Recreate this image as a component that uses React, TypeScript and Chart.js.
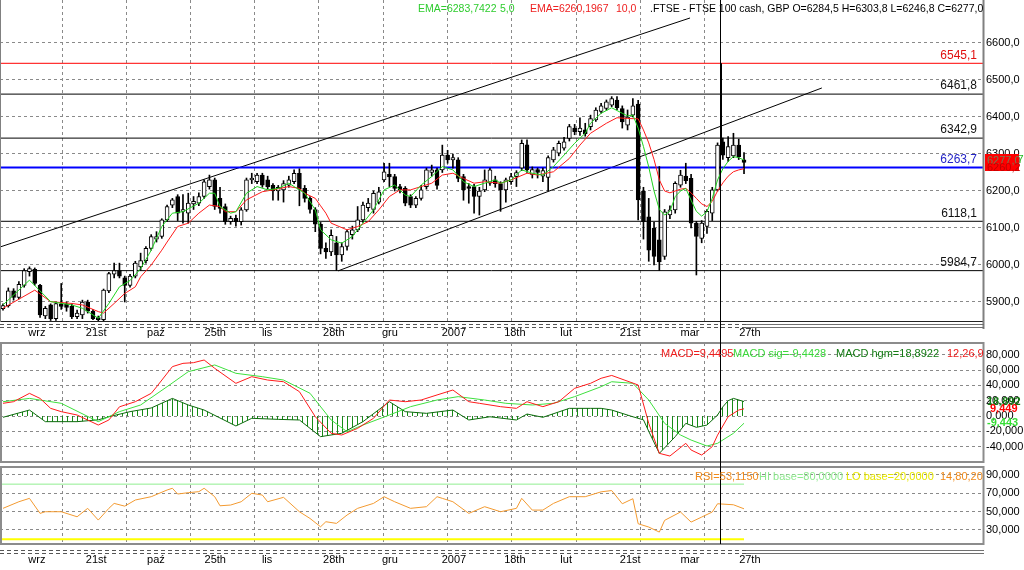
import React, { useEffect, useRef } from "react";
import { Chart, registerables } from "chart.js";

Chart.register(...registerables);

const FONT = "'Liberation Sans', Arial, sans-serif";
const GRID = "#8a8a8a";

// x geometry (candle index space)
const X_MIN = -0.567;
const X_MAX = 185.15;
const CURSOR_X = 135.37;
const LAST_X = 140;

// ---- OHLC (FTSE 100 cash, daily) ----
const openPrices = [
  5882, 5890, 5930, 5912, 5945, 5982, 5988, 5945, 5862, 5892,
  5855, 5895, 5895, 5888, 5860, 5865, 5900, 5875, 5858, 5852,
  5930, 5975, 5985, 5965, 5945, 5970, 5995, 6012, 6045, 6070,
  6077, 6122, 6162, 6185, 6145, 6140, 6165, 6167, 6185, 6212,
  6230, 6180, 6158, 6117, 6126, 6117, 6149, 6230, 6225, 6243,
  6230, 6215, 6200, 6203, 6216, 6225, 6248, 6207, 6180, 6150,
  6110, 6045, 6035, 6060, 6027, 6050, 6082, 6095, 6122, 6155,
  6150, 6170, 6230, 6245, 6239, 6212, 6207, 6185, 6162, 6180,
  6212, 6250, 6257, 6257, 6297, 6284, 6284, 6239, 6212, 6212,
  6185, 6203, 6221, 6230, 6220, 6203, 6225, 6239, 6262, 6325,
  6245, 6258, 6240, 6237, 6284, 6302, 6316, 6342, 6370, 6360,
  6365, 6374, 6392, 6415, 6423, 6432, 6446, 6423, 6378, 6405,
  6435, 6200, 6130, 6100, 6068, 6023, 6135, 6149, 6216, 6240,
  6234, 6113, 6072, 6104, 6140, 6203, 6333, 6290, 6295, 6324,
  6284.5,
];
const highPrices = [
  5895, 5938, 5936, 5955, 5990, 5995, 5992, 5948, 5888, 5895,
  5900, 5950, 5900, 5895, 5878, 5905, 5905, 5880, 5862, 5935,
  5980, 6005, 6005, 5970, 5975, 6010, 6032, 6050, 6082, 6090,
  6125, 6162, 6180, 6190, 6190, 6194, 6185, 6195, 6230, 6243,
  6235, 6210, 6165, 6132, 6135, 6155, 6235, 6248, 6248, 6248,
  6240, 6220, 6215, 6228, 6240, 6257, 6260, 6215, 6185, 6155,
  6115, 6060, 6095, 6077, 6060, 6095, 6105, 6158, 6170, 6180,
  6200, 6210, 6275, 6275, 6245, 6218, 6212, 6190, 6185, 6215,
  6262, 6270, 6262, 6324, 6310, 6300, 6290, 6245, 6220, 6218,
  6210, 6257, 6262, 6240, 6225, 6235, 6248, 6255, 6338, 6338,
  6265, 6262, 6262, 6295, 6318, 6335, 6345, 6380, 6380, 6398,
  6383, 6405, 6425, 6437, 6446, 6455, 6455, 6430, 6419, 6450,
  6445, 6210, 6180, 6115, 6266, 6150, 6160, 6225, 6256, 6275,
  6245, 6118, 6120, 6150, 6210, 6330, 6343, 6347, 6356, 6340,
  6303.8,
];
const lowPrices = [
  5878, 5886, 5905, 5908, 5940, 5970, 5945, 5858, 5855, 5850,
  5850, 5880, 5875, 5855, 5855, 5855, 5870, 5852, 5846, 5848,
  5925, 5965, 5965, 5900, 5940, 5965, 5985, 6005, 6040, 6062,
  6072, 6118, 6155, 6120, 6113, 6113, 6150, 6160, 6180, 6205,
  6150, 6140, 6110, 6110, 6105, 6108, 6145, 6220, 6220, 6210,
  6205, 6175, 6175, 6170, 6210, 6220, 6160, 6170, 6140, 6090,
  6030, 6018, 6025, 5985, 6010, 6040, 6070, 6090, 6115, 6145,
  6140, 6165, 6225, 6212, 6200, 6195, 6160, 6155, 6155, 6175,
  6205, 6240, 6205, 6250, 6275, 6262, 6225, 6175, 6167, 6140,
  6135, 6198, 6215, 6210, 6145, 6170, 6218, 6212, 6255, 6250,
  6235, 6235, 6225, 6200, 6278, 6295, 6310, 6335, 6352, 6350,
  6348, 6365, 6388, 6410, 6418, 6428, 6420, 6370, 6365, 6400,
  6122, 6070, 6010, 6000, 5985, 6015, 6125, 6140, 6210, 6220,
  6100, 5973, 6060, 6085, 6120, 6200, 6285, 6280, 6290, 6285,
  6246.8,
];
const closePrices = [
  5890, 5930, 5912, 5948, 5985, 5990, 5950, 5865, 5883, 5855,
  5896, 5888, 5885, 5860, 5870, 5900, 5875, 5855, 5852, 5932,
  5977, 5985, 5970, 5945, 5970, 6005, 6012, 6045, 6077, 6077,
  6122, 6158, 6176, 6140, 6150, 6167, 6172, 6185, 6225, 6230,
  6158, 6153, 6117, 6126, 6117, 6149, 6230, 6235, 6243, 6216,
  6212, 6200, 6210, 6220, 6230, 6248, 6205, 6180, 6150, 6110,
  6045, 6035, 6080, 6027, 6050, 6090, 6095, 6122, 6162, 6167,
  6194, 6198, 6252, 6238, 6207, 6203, 6167, 6162, 6180, 6203,
  6257, 6257, 6215, 6297, 6284, 6290, 6234, 6203, 6207, 6185,
  6200, 6230, 6257, 6220, 6203, 6230, 6239, 6250, 6329, 6257,
  6258, 6250, 6255, 6290, 6311, 6329, 6333, 6374, 6360, 6370,
  6355, 6396, 6419, 6430, 6441, 6450, 6425, 6387, 6400, 6430,
  6176, 6117, 6040, 6023, 6008, 6144, 6149, 6221, 6243, 6228,
  6113, 6077, 6113, 6145, 6203, 6324, 6297, 6320, 6324, 6293,
  6277.0,
];

// ---- EMA lines ----
const ema5Idx = [0, 5, 9, 13, 15, 18, 20, 22, 24, 26, 28, 30, 32, 34, 37, 39, 40, 41, 43, 44, 46, 48, 50, 52, 54, 55, 57, 59, 60, 62, 64, 66, 68, 70, 72, 74, 76, 77, 79, 81, 83, 85, 87, 89, 91, 93, 94, 96, 98, 100, 102, 104, 106, 108, 110, 111, 113, 115, 117, 118, 119, 120, 121, 122, 123, 124, 125, 126, 127, 128, 129, 130, 131, 132, 133, 134, 135, 136, 137, 138, 139, 140];
const ema5Vals = [5892, 5959, 5901, 5892, 5883, 5856, 5896, 5941, 5958, 5990, 6040, 6104, 6140, 6144, 6167, 6194, 6194, 6158, 6140, 6144, 6194, 6212, 6203, 6207, 6221, 6212, 6194, 6149, 6095, 6068, 6059, 6077, 6113, 6149, 6203, 6216, 6189, 6185, 6216, 6239, 6266, 6257, 6225, 6212, 6221, 6230, 6221, 6230, 6257, 6248, 6243, 6266, 6297, 6329, 6356, 6383, 6410, 6425, 6410, 6403, 6405, 6370, 6320, 6265, 6200, 6150, 6135, 6145, 6185, 6200, 6207, 6175, 6145, 6132, 6144, 6180, 6230, 6260, 6280, 6293, 6290, 6283.7];
const ema10Idx = [0, 6, 9, 13, 15, 18, 19, 21, 23, 25, 26, 28, 30, 31, 33, 35, 37, 39, 41, 42, 44, 46, 49, 51, 54, 56, 57, 59, 60, 61, 62, 65, 67, 69, 71, 73, 75, 77, 79, 81, 83, 85, 87, 89, 91, 94, 96, 99, 101, 104, 107, 109, 111, 114, 116, 118, 120, 121, 122, 123, 124, 125, 126, 127, 128, 129, 130, 131, 132, 133, 134, 135, 136, 137, 138, 139, 140];
const ema10Vals = [5883, 5932, 5901, 5896, 5892, 5874, 5870, 5896, 5923, 5941, 5968, 6000, 6040, 6062, 6104, 6113, 6140, 6162, 6158, 6144, 6144, 6176, 6198, 6203, 6212, 6207, 6194, 6180, 6160, 6140, 6113, 6095, 6104, 6117, 6149, 6185, 6203, 6203, 6212, 6221, 6243, 6248, 6234, 6221, 6225, 6221, 6230, 6248, 6243, 6252, 6288, 6324, 6356, 6383, 6398, 6396, 6395, 6365, 6330, 6285, 6230, 6200, 6195, 6200, 6205, 6207, 6195, 6180, 6165, 6158, 6172, 6200, 6222, 6240, 6252, 6257, 6260.2];

// ---- MACD (12,26,9) ----
const macdIdx = [0, 2, 5, 7, 9, 11, 14, 18, 20, 22, 25, 28, 29, 32, 34, 36, 38, 40, 44, 47, 50, 53, 56, 59, 62, 64, 67, 70, 73, 76, 79, 82, 85, 88, 90, 94, 97, 99, 102, 105, 108, 111, 113, 115, 120, 122, 124, 126, 129, 130, 132, 134, 135, 137, 139, 140];
const macdVals = [16.6, 18.7, 29.6, 23, 10, 5.7, 1.3, -11.8, -5.2, 12, 18.7, 29.6, 38, 64.5, 68.8, 69.7, 73.2, 62.3, 42.7, 51.4, 47, 44.8, 31.8, -0.9, -22.6, -24.8, -16.1, -3, 20.9, 18.7, 20.9, 27.5, 34, 18.7, 16.6, 12.2, 10, 18.7, 12.2, 18.7, 36.2, 42.7, 49.3, 53, 40.5, -9.6, -48.8, -52.3, -35.7, -44.4, -51, -40, -25, -0.9, 7.8, 9.45];
const sigIdx = [0, 5, 11, 18, 22, 26, 31, 35, 40, 44, 49, 53, 58, 62, 65, 68, 73, 77, 82, 86, 91, 95, 100, 104, 108, 113, 115, 119, 122, 125, 128, 130, 133, 135, 138, 140];
const sigVals = [18.7, 23, 16.6, -7.4, 5.7, 14.4, 38.3, 57.9, 66.7, 55.8, 51.4, 47, 29.7, -5.2, -20.5, -11.8, 1.3, 12.2, 20.9, 25.3, 20.9, 16.6, 14.4, 16.6, 25.3, 38.3, 44.8, 42.7, 20.9, -9.6, -24.8, -31.4, -39.2, -35.7, -22.6, -9.44];
const histIdx = [0, 5, 8, 14, 18, 20, 24, 28, 32, 35, 38, 41, 44, 47, 52, 56, 60, 64, 68, 73, 76, 80, 85, 88, 92, 97, 99, 102, 107, 111, 113, 115, 119, 121, 122, 124, 127, 129, 131, 133, 135, 136, 137, 138, 140];
const histVals = [-1.7, 7.8, -7.4, -7.4, -5, -1, 5.7, 10.5, 23, 14.4, 7.8, -2.6, -13, -3, -4.4, -5.2, -27, -22.6, -7.4, 18.7, 5.7, 3.5, 7.8, -5.2, -1, -5.2, 2.6, -1.7, 10, 10, 10, 7.8, -1, -5, -20, -48.8, -27, -9.6, -14.8, -11.8, 1.3, 12, 20, 23, 18.9];

// ---- RSI (14) ----
const rsiIdx = [0, 3, 5, 7, 8, 11, 14, 16, 18, 20, 21, 23, 25, 28, 31, 32, 33, 35, 37, 38, 40, 41, 43, 45, 47, 49, 50, 53, 56, 58, 60, 61, 63, 65, 67, 70, 72, 74, 77, 80, 82, 83, 85, 88, 91, 94, 97, 98, 100, 102, 104, 107, 110, 113, 115, 117, 119, 120, 122, 124, 125, 128, 130, 132, 134, 135, 138, 140];
const rsiVals = [53.6, 60.8, 64.5, 48.1, 49.9, 49.9, 44.4, 53.6, 40.8, 53.6, 59, 56, 62.7, 66.3, 73.6, 75.5, 69.2, 70.7, 71.8, 75.5, 66.3, 56.4, 57.2, 60.8, 70, 68.1, 60.8, 65.6, 49.9, 42.6, 33.5, 39, 37.2, 46.3, 53.6, 59, 66.3, 60.8, 53.6, 55.4, 66.3, 64.5, 60.8, 48.1, 55.4, 49.9, 53.6, 64.5, 51.7, 51.7, 59, 66.3, 66.3, 71.6, 73, 58.6, 64.1, 36.8, 33.2, 27.7, 40.5, 49.6, 38.6, 44.1, 49.6, 58.6, 57.5, 53.1];
const rsiHiBase = 80;
const rsiLoBase = 20;

// ---- levels & trend lines ----
const levelValues = [6545.1, 6461.8, 6342.9, 6263.7, 6118.1, 5984.7];
const levelColors = ["#ff0000", "#000000", "#000000", "#0000ff", "#000000", "#000000"];
const levelLabelColors = ["#e01010", "#111111", "#111111", "#2626c8", "#111111", "#111111"];
const levelWidths = [1, 1, 1, 2, 1, 1];
const upperTrendX = [-0.567, 129.8];
const upperTrendY = [6048.6, 6667.6];
const lowerTrendX = [63.3, 154.7];
const lowerTrendY = [5984.0, 6478.4];
const cursorBoldTop = 6545.1;
const cursorBoldBottom = 6320;

// ---- axes ----
const xLabelPos = [6.4, 17.6, 28.9, 40.1, 49.9, 62.5, 73.1, 85.2, 96.7, 106.4, 118.5, 129.8, 141.1];
const xLabelText = ["wrz", "21st", "paź", "25th", "lis", "28th", "gru", "2007", "18th", "lut", "21st", "mar", "27th"];
const xGridPos = [11.3, 23.4, 35.5, 47.6, 59.7, 71.8, 83.9, 96.1, 108.3, 120.5, 132.6];
const priceTicks = [5900, 6000, 6100, 6200, 6300, 6400, 6500, 6600];
const macdTicks = [-40, -20, 0, 20, 40, 60, 80];
const rsiTicks = [30, 50, 70, 90];

const fmt1 = (v: number) => v.toFixed(1).replace(".", ",");
const fmt3 = (v: number) => v.toFixed(3).replace(".", ",");
const pts = (xs: number[], ys: number[]) => xs.map((x, k) => ({ x, y: ys[k] }));

function noPad(sc: any) {
  sc.paddingTop = 0;
  sc.paddingBottom = 0;
  sc.paddingLeft = 0;
  sc.paddingRight = 0;
}

function xScales(withLabels: boolean, labelHeight: number, labelPad: number) {
  const s: any = {
    x: {
      type: "linear",
      min: X_MIN,
      max: X_MAX,
      offset: false,
      position: "top",
      afterBuildTicks: (sc: any) => {
        sc.ticks = xGridPos.map((v) => ({ value: v }));
      },
      afterFit: (sc: any) => {
        sc.height = 0;
        noPad(sc);
      },
      ticks: { display: false },
      grid: { color: GRID, lineWidth: 1, drawTicks: false, offset: false },
      border: { display: false, dash: [3, 3] },
    },
  };
  if (withLabels) {
    s.xl = {
      type: "linear",
      min: X_MIN,
      max: X_MAX,
      offset: false,
      position: "bottom",
      afterBuildTicks: (sc: any) => {
        sc.ticks = xLabelPos.map((v) => ({ value: v }));
      },
      afterFit: (sc: any) => {
        sc.height = labelHeight;
        noPad(sc);
      },
      ticks: {
        autoSkip: false,
        maxRotation: 0,
        minRotation: 0,
        padding: labelPad,
        color: "#000",
        font: { family: FONT, size: 11 },
        callback: (_v: any, i: number) => xLabelText[i],
      },
      grid: { display: false, drawTicks: false, offset: false },
      border: { display: false },
    };
  }
  return s;
}

function yScale(min: number, max: number, ticks: number[], fmt: (v: number) => string) {
  return {
    type: "linear",
    position: "right",
    min,
    max,
    beginAtZero: false,
    afterBuildTicks: (sc: any) => {
      sc.ticks = ticks.map((v) => ({ value: v }));
    },
    afterFit: (sc: any) => {
      sc.width = 41;
      noPad(sc);
    },
    ticks: {
      padding: 3,
      color: "#000",
      font: { family: FONT, size: 11 },
      callback: (v: any) => fmt(Number(v)),
    },
    grid: { color: GRID, lineWidth: 1, drawTicks: false },
    border: { display: false, dash: [3, 3] },
  };
}

function hline(ctx: CanvasRenderingContext2D, x1: number, x2: number, y: number) {
  ctx.beginPath();
  ctx.moveTo(x1, y);
  ctx.lineTo(x2, y);
  ctx.stroke();
}
function vline(ctx: CanvasRenderingContext2D, x: number, y1: number, y2: number) {
  ctx.beginPath();
  ctx.moveTo(x, y1);
  ctx.lineTo(x, y2);
  ctx.stroke();
}
function dateStrip(ctx: CanvasRenderingContext2D, y1: number, y2: number, xEnd: number) {
  ctx.save();
  ctx.lineWidth = 1;
  ctx.strokeStyle = "#555";
  ctx.setLineDash([4, 3]);
  hline(ctx, 0, xEnd, y1);
  hline(ctx, 0, xEnd, y2);
  ctx.setLineDash([]);
  ctx.strokeStyle = "#707070";
  hline(ctx, xEnd, 984, y1);
  hline(ctx, xEnd, 984, y2);
  ctx.restore();
}

const baseOpts = {
  responsive: false,
  animation: false as const,
  devicePixelRatio: 1,
  events: [] as any[],
  plugins: { legend: { display: false }, tooltip: { enabled: false } },
};

export default function App() {
  const mainRef = useRef<HTMLCanvasElement>(null);
  const macdRef = useRef<HTMLCanvasElement>(null);
  const rsiRef = useRef<HTMLCanvasElement>(null);

  useEffect(() => {
    const charts: Chart[] = [];
    const idx = closePrices.map((_, i) => i);

    // ---------- main price panel ----------
    const mainOverlay = {
      id: "mainOverlay",
      afterDraw(chart: any) {
        const { ctx, scales } = chart;
        const xs = scales.x;
        const ys = scales.y;
        ctx.save();
        // level labels
        ctx.font = `12px ${FONT}`;
        ctx.textAlign = "right";
        ctx.textBaseline = "middle";
        levelValues.forEach((v, k) => {
          ctx.fillStyle = levelLabelColors[k];
          ctx.fillText(fmt1(v), 977, ys.getPixelForValue(v) - 8);
        });
        // frame
        ctx.strokeStyle = "#222";
        ctx.lineWidth = 1;
        hline(ctx, 0, 984, 321.5);
        ctx.strokeStyle = "#808080";
        ctx.lineWidth = 2;
        vline(ctx, 983.5, 0, 329);
        ctx.lineWidth = 1;
        vline(ctx, 0.5, 0, 322);
        dateStrip(ctx, 324.5, 327.5, xs.getPixelForValue(LAST_X) + 2);
        // cursor
        ctx.strokeStyle = "#000";
        ctx.lineWidth = 1;
        const cxr = Math.round(xs.getPixelForValue(CURSOR_X));
        vline(ctx, cxr + 0.5, 0, 342);
        ctx.lineWidth = 2;
        vline(ctx, cxr + 1, ys.getPixelForValue(cursorBoldTop), ys.getPixelForValue(cursorBoldBottom));
        // header
        ctx.font = `10.5px ${FONT}`;
        ctx.textAlign = "left";
        ctx.textBaseline = "middle";
        ctx.fillStyle = "#2ecc2e";
        ctx.fillText("EMA=6283,7422", 418, 9);
        ctx.fillText("5,0", 500, 9);
        ctx.fillStyle = "#ee2020";
        ctx.fillText("EMA=6260,1967", 530, 9);
        ctx.fillText("10,0", 616, 9);
        ctx.fillStyle = "#000";
        ctx.fillText(".FTSE - FTSE 100 cash, GBP O=6284,5 H=6303,8 L=6246,8 C=6277,0", 650, 9);
        // current price tag
        ctx.font = `11px ${FONT}`;
        ctx.fillStyle = "#22bb22";
        ctx.fillText("6283,7", 990, 160);
        ctx.fillStyle = "#ff0000";
        ctx.fillRect(985, 154, 34, 17);
        ctx.fillStyle = "#7a7a50";
        ctx.fillText("6277,0", 987, 161);
        ctx.fillStyle = "#c00000";
        ctx.fillText("6260,2", 987, 168);
        ctx.restore();
      },
    };

    const mainCanvas = mainRef.current!;
    charts.push(
      new Chart(mainCanvas, {
        type: "bar",
        data: {
          datasets: [
            ...levelValues.map((v, k) => ({
              type: "line" as const,
              data: [
                { x: X_MIN, y: v },
                { x: X_MAX, y: v },
              ],
              borderColor: levelColors[k],
              borderWidth: levelWidths[k],
              pointRadius: 0,
              fill: false,
              order: 10,
              xAxisID: "x",
              yAxisID: "y",
            })),
            {
              type: "line" as const,
              data: pts(upperTrendX, upperTrendY),
              borderColor: "#000",
              borderWidth: 1,
              pointRadius: 0,
              fill: false,
              order: 10,
              xAxisID: "x",
              yAxisID: "y",
            },
            {
              type: "line" as const,
              data: pts(lowerTrendX, lowerTrendY),
              borderColor: "#000",
              borderWidth: 1,
              pointRadius: 0,
              fill: false,
              order: 10,
              xAxisID: "x",
              yAxisID: "y",
            },
            {
              type: "bar" as const,
              data: idx.map((i) => ({ x: i, y: [lowPrices[i], highPrices[i]] })),
              backgroundColor: "#000",
              borderWidth: 0,
              barThickness: 1,
              grouped: false,
              order: 4,
              xAxisID: "x",
              yAxisID: "y",
            } as any,
            {
              type: "bar" as const,
              data: idx.map((i) => ({ x: i, y: [openPrices[i], closePrices[i]] })),
              backgroundColor: idx.map((i) => (closePrices[i] >= openPrices[i] ? "#ffffff" : "#000000")),
              borderColor: "#000",
              borderWidth: 1,
              borderSkipped: false,
              barThickness: 4,
              minBarLength: 1,
              grouped: false,
              order: 3,
              xAxisID: "x",
              yAxisID: "y",
            } as any,
            {
              type: "line" as const,
              data: pts(ema10Idx, ema10Vals),
              borderColor: "#ff1a1a",
              borderWidth: 1,
              pointRadius: 0,
              fill: false,
              order: 2,
              xAxisID: "x",
              yAxisID: "y",
            },
            {
              type: "line" as const,
              data: pts(ema5Idx, ema5Vals),
              borderColor: "#1ed41e",
              borderWidth: 1,
              pointRadius: 0,
              fill: false,
              order: 1,
              xAxisID: "x",
              yAxisID: "y",
            },
          ] as any,
        },
        options: {
          ...baseOpts,
          layout: { padding: 0 },
          scales: {
            ...xScales(true, 20, 4),
            y: yScale(5845.9, 6716.2, priceTicks, fmt1),
          } as any,
        },
        plugins: [mainOverlay],
      } as any)
    );

    // ---------- MACD panel ----------
    const macdCanvas = macdRef.current!;
    const mctx = macdCanvas.getContext("2d")!;
    const pc = document.createElement("canvas");
    pc.width = 5;
    pc.height = 2;
    const pctx = pc.getContext("2d")!;
    pctx.fillStyle = "#168a16";
    pctx.fillRect(2, 0, 1, 2);
    const hatch = mctx.createPattern(pc, "repeat");

    const macdOverlay = {
      id: "macdOverlay",
      afterDraw(chart: any) {
        const { ctx, chartArea: ca, scales } = chart;
        ctx.save();
        ctx.strokeStyle = "#8c8c8c";
        ctx.lineWidth = 2;
        ctx.strokeRect(1, ca.top, 982.5, ca.bottom - ca.top);
        ctx.strokeStyle = "#000";
        ctx.lineWidth = 1;
        const cx = Math.round(scales.x.getPixelForValue(CURSOR_X)) + 0.5;
        vline(ctx, cx, 0, chart.height);
        ctx.font = `11px ${FONT}`;
        ctx.textBaseline = "middle";
        ctx.textAlign = "left";
        ctx.fillStyle = "#ee1c1c";
        ctx.fillText("MACD=9,4495", 661, 12);
        ctx.fillStyle = "#3ad83a";
        ctx.fillText("MACD sig=-9,4428", 733, 12);
        ctx.fillStyle = "#137a13";
        ctx.fillText("MACD hgm=18,8922", 836, 12);
        ctx.fillStyle = "#ee1c1c";
        ctx.fillText("12,26,9", 947, 12);
        ctx.font = `bold 11px ${FONT}`;
        ctx.fillStyle = "#137a13";
        ctx.fillText("18,892", 987, scales.y.getPixelForValue(18.9));
        ctx.fillStyle = "#ff0000";
        ctx.fillText("9,449", 990, scales.y.getPixelForValue(9.45));
        ctx.fillStyle = "#33dd33";
        ctx.fillText("-9,443", 987, scales.y.getPixelForValue(-9.44));
        ctx.restore();
      },
    };

    charts.push(
      new Chart(macdCanvas, {
        type: "line",
        data: {
          datasets: [
            {
              data: pts(histIdx, histVals),
              borderColor: "#0b6a0b",
              borderWidth: 1,
              backgroundColor: hatch as any,
              fill: "origin",
              pointRadius: 0,
              order: 3,
            },
            {
              data: pts(sigIdx, sigVals),
              borderColor: "#3ee03e",
              borderWidth: 1,
              pointRadius: 0,
              fill: false,
              order: 2,
            },
            {
              data: pts(macdIdx, macdVals),
              borderColor: "#ff1a1a",
              borderWidth: 1,
              pointRadius: 0,
              fill: false,
              order: 1,
            },
          ] as any,
        },
        options: {
          ...baseOpts,
          layout: { padding: { top: 1, bottom: 4, left: 0, right: 0 } },
          scales: {
            ...xScales(false, 0, 0),
            y: yScale(-60.1, 95.4, macdTicks, fmt3),
          } as any,
        },
        plugins: [macdOverlay],
      } as any)
    );

    // ---------- RSI panel ----------
    const rsiOverlay = {
      id: "rsiOverlay",
      afterDraw(chart: any) {
        const { ctx, chartArea: ca, scales } = chart;
        ctx.save();
        ctx.strokeStyle = "#8c8c8c";
        ctx.lineWidth = 2;
        ctx.strokeRect(1, ca.top, 982.5, ca.bottom - ca.top);
        dateStrip(ctx, 84.5, 87.5, scales.x.getPixelForValue(LAST_X) + 2);
        ctx.strokeStyle = "#000";
        ctx.lineWidth = 1;
        const cx = Math.round(scales.x.getPixelForValue(CURSOR_X)) + 0.5;
        vline(ctx, cx, 0, ca.bottom);
        ctx.font = `11px ${FONT}`;
        ctx.textBaseline = "middle";
        ctx.textAlign = "left";
        ctx.fillStyle = "#f08a1a";
        ctx.fillText("RSI=53,1150", 695, 11);
        ctx.fillStyle = "#8ee88e";
        ctx.fillText("HI base=80,0000", 759, 11);
        ctx.fillStyle = "#e6e600";
        ctx.fillText("LO base=20,0000", 846, 11);
        ctx.fillStyle = "#f08a1a";
        ctx.fillText("14,80,20", 940, 11);
        ctx.restore();
      },
    };

    charts.push(
      new Chart(rsiRef.current!, {
        type: "line",
        data: {
          datasets: [
            {
              data: [
                { x: X_MIN, y: rsiHiBase },
                { x: LAST_X, y: rsiHiBase },
              ],
              borderColor: "#90ee90",
              borderWidth: 1,
              pointRadius: 0,
              fill: false,
              order: 3,
            },
            {
              data: [
                { x: X_MIN, y: rsiLoBase },
                { x: LAST_X, y: rsiLoBase },
              ],
              borderColor: "#ffff00",
              borderWidth: 2,
              pointRadius: 0,
              fill: false,
              order: 3,
            },
            {
              data: pts(rsiIdx, rsiVals),
              borderColor: "#f39a30",
              borderWidth: 1,
              pointRadius: 0,
              fill: false,
              order: 1,
            },
          ] as any,
        },
        options: {
          ...baseOpts,
          layout: { padding: { top: 1, bottom: 0, left: 0, right: 0 } },
          scales: {
            ...xScales(true, 26, 9),
            y: yScale(14.7, 98.7, rsiTicks, fmt3),
          } as any,
        },
        plugins: [rsiOverlay],
      } as any)
    );

    return () => charts.forEach((c) => c.destroy());
  }, []);

  return (
    <div
      style={{
        position: "fixed",
        left: 0,
        top: 0,
        width: 1024,
        height: 570,
        background: "#ffffff",
        overflow: "hidden",
      }}
    >
      <canvas ref={mainRef} width={1024} height={342} style={{ position: "absolute", left: 0, top: 0, display: "block" }} />
      <canvas ref={macdRef} width={1024} height={124} style={{ position: "absolute", left: 0, top: 342, display: "block" }} />
      <canvas ref={rsiRef} width={1024} height={104} style={{ position: "absolute", left: 0, top: 466, display: "block" }} />
    </div>
  );
}
